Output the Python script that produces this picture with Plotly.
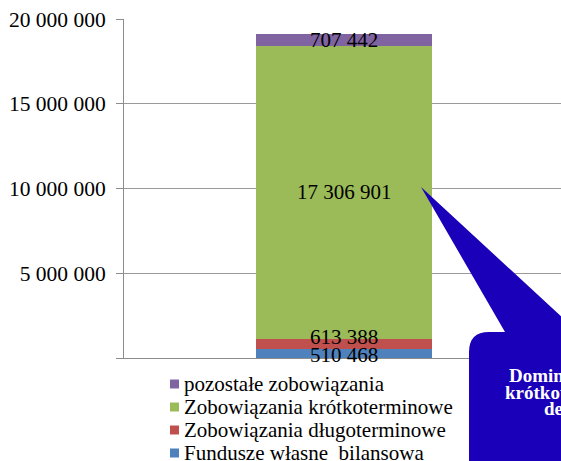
import plotly.graph_objects as go

# ---- data ----
series_names = [
    "Fundusze własne  bilansowa",
    "Zobowiązania długoterminowe",
    "Zobowiązania krótkoterminowe",
    "pozostałe zobowiązania",
]
series_values = [510468, 613388, 17306901, 707442]
series_colors = ["#4F81BD", "#C0504D", "#9BBB59", "#8064A2"]
category = [0]
tick_values = [0, 5000000, 10000000, 15000000, 20000000]
tick_labels = ["", "5 000 000", "10 000 000", "15 000 000", "20 000 000"]
callout_lines = ["Dominacja", "krótkoterminowych", "deficytów"]

FONT = "Liberation Serif, Times New Roman, serif"
W_FIG, H_FIG = 561, 461
L, T, B = 124, 19, 103
PW, PH = W_FIG - L, H_FIG - T - B

def px(x):
    return (x - L) / PW

def py(y):
    return (H_FIG - B - y) / PH

fig = go.Figure()
for name, val, col in zip(series_names, series_values, series_colors):
    fig.add_trace(go.Bar(x=category, y=[val], name=name, marker_color=col,
                         marker_line_width=0, width=0.4, showlegend=False))

def fmt(v):
    return f"{v:,}".replace(",", " ")

annotations = []
shapes = []

# value labels centred in segments
label_shift = [-1.5, 7.5, 0, 0]
base = 0
for val, sh in zip(series_values, label_shift):
    annotations.append(dict(x=category[0], y=base + val / 2, xref="x", yref="y",
                            text=fmt(val), showarrow=False, yshift=sh,
                            font=dict(family=FONT, size=21, color="black")))
    base += val

# legend (drawn manually, reversed order: top entry = last series)
row_center = 384.0
for name, col in zip(reversed(series_names), reversed(series_colors)):
    shapes.append(dict(type="rect", xref="paper", yref="paper",
                       x0=px(170), x1=px(179), y0=py(row_center - 4.5),
                       y1=py(row_center + 4.5), fillcolor=col, line=dict(width=0)))
    annotations.append(dict(x=px(182), y=py(row_center), xref="paper", yref="paper",
                            xanchor="left", yanchor="middle", text=name,
                            showarrow=False,
                            font=dict(family=FONT, size=21, color="black")))
    row_center += 23

# callout
callout_path = (
    f"M {px(469)},{py(352)} Q {px(469)},{py(332)} {px(489)},{py(332)} "
    f"L {px(505)},{py(332)} L {px(421)},{py(187)} L {px(578)},{py(332)} "
    f"L {px(700)},{py(332)} L {px(700)},{py(520)} L {px(469)},{py(520)} Z"
)
shapes.append(dict(type="path", path=callout_path, xref="paper", yref="paper",
                   fillcolor="#1A00B8", line=dict(width=0), layer="above"))

line_pos = [(507, 375), (503, 392), (542, 408)]
for txt, (lx, ly) in zip(callout_lines, line_pos):
    annotations.append(dict(x=px(lx), y=py(ly), xref="paper", yref="paper",
                            xanchor="left", yanchor="middle", text=f"<b>{txt}</b>",
                            showarrow=False,
                            font=dict(family=FONT, size=19, color="white")))

fig.update_layout(
    width=W_FIG, height=H_FIG,
    margin=dict(l=L, r=0, t=T, b=B, pad=0, autoexpand=False),
    barmode="stack",
    separators=", ",
    plot_bgcolor="white", paper_bgcolor="white",
    font=dict(family=FONT, size=21, color="black"),
    showlegend=False,
    annotations=annotations,
    shapes=shapes,
)
fig.update_xaxes(range=[-0.5, -0.5 + PW / 440.0], showticklabels=False,
                 showgrid=False, zeroline=False, showline=True,
                 linecolor="#8C8C8C", linewidth=1, ticks="")
fig.update_yaxes(range=[0, 20000000], tickvals=tick_values, ticktext=tick_labels,
                 showgrid=True, gridcolor="#9A9A9A", gridwidth=1,
                 zeroline=False, showline=True, linecolor="#8C8C8C", linewidth=1,
                 ticks="outside", ticklen=7, tickcolor="#8C8C8C",
                 ticklabelstandoff=6,
                 tickfont=dict(family=FONT, size=21.5, color="black"))

fig.write_html("out.html", config={"displayModeBar": False},
               post_script="document.body.style.margin='0';")
